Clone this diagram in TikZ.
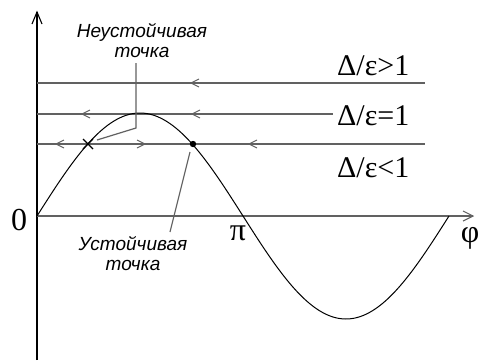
\documentclass[tikz,border=0pt]{standalone}
\usepackage{fontspec}
\setmainfont{Liberation Serif}
\newfontfamily\rufont{Liberation Sans}
\tikzset{
 hline/.style={draw=black!62,line width=1.3pt},
 axisline/.style={line width=1.1pt},
 curveline/.style={black,line width=1pt},
 chev/.style={draw=black!62,line width=1pt},
 lead/.style={draw=black!62,line width=1.2pt},
 big/.style={font=\fontsize{32}{36}\selectfont,inner sep=0pt},
 dlbl/.style={font=\fontsize{30}{34}\selectfont,inner sep=0pt,anchor=base west},
 rulbl/.style={font=\rufont\itshape\fontsize{19}{20}\selectfont,align=center,inner sep=0pt},
 lchev/.pic={\draw[chev] (8,-4) -- (0,0) -- (8,4);},
 rchev/.pic={\draw[chev] (-8,-4) -- (0,0) -- (-8,4);},
}
\begin{document}
\begin{tikzpicture}[x=1pt,y=-1pt]
\useasboundingbox (0,0) rectangle (481,360);
% axes
\coordinate (O) at (37,216);
\coordinate (ytop) at (37,12);
\coordinate (ybot) at (37,360);
\coordinate (xend) at (473,216);
\draw[axisline] (ybot) -- (ytop);
\draw[axisline] (ytop) ++(-5,12) -- (ytop) -- ++(5,12);
\draw[axisline,draw=black!62] (O) -- (xend);
\draw[axisline,draw=black!62] (xend) ++(-10,-5) -- (xend) -- ++(-10,5);
% labels
\node[dlbl] (gt) at (337,75) {Δ/ε>1};
\node[dlbl] (eq) at (337,125) {Δ/ε=1};
\node[dlbl] (lt) at (337,177) {Δ/ε<1};
\node[big] (zero) at (19,220) {0};
\node[big] (pi) at (238,233) {π};
\node[big] (phi) at (470,238) {φ};
% horizontal lines
\draw[hline] (37,83) -- (425,83);
\draw[hline] (37,114) -- (333,114);
\draw[hline] (37,144) -- (425,144);
% chevrons
\pic at (191,83) {lchev};
\pic at (82,114) {lchev};
\pic at (192,114) {lchev};
\pic at (56,144) {lchev};
\pic at (145,144) {rchev};
\pic at (249,144) {lchev};
% curve
\draw[curveline] plot[domain=0:6.2832,samples=140,smooth] ({37+206*\x/pi},{216-103*sin(\x r)});
% points
\coordinate (U) at (88,144);
\coordinate (S) at (193,144);
\draw[line width=1.2pt] (U) ++(-5,-5) -- ++(10,10) (U) ++(-5,5) -- ++(10,-10);
\fill (S) circle (3.2);
% annotations
\node[rulbl] (unst) at (142,41) {Неустойчивая\\точка};
\node[rulbl] (st) at (133,254) {Устойчивая\\точка};
\coordinate (ua) at (136,63);
\coordinate (ub) at (136,128);
\coordinate (uc) at (97,140);
\coordinate (sa) at (190,152);
\coordinate (sb) at (170,232);
\draw[lead] (ua) -- (ub) -- (uc);
\draw[lead] (sa) -- (sb);
\end{tikzpicture}
\end{document}
